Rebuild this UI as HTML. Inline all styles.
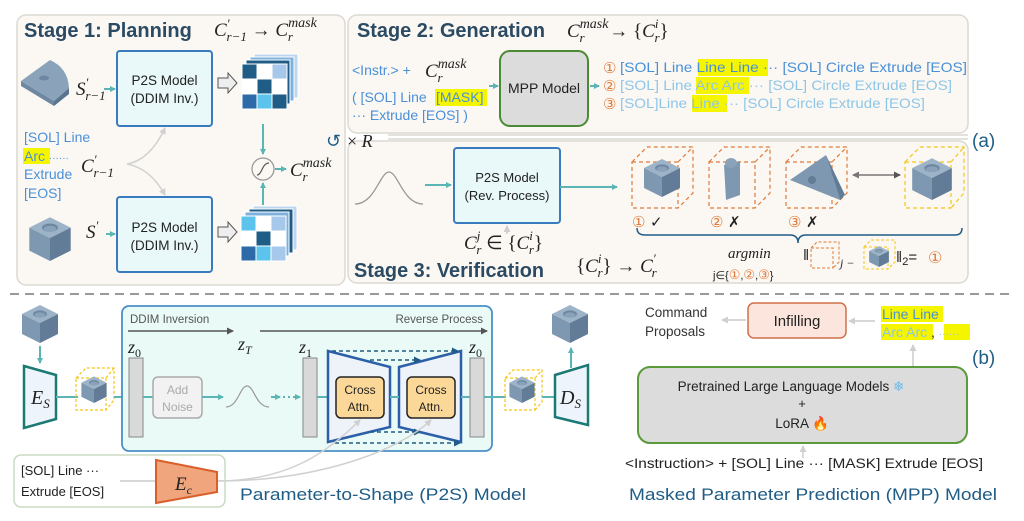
<!DOCTYPE html>
<html><head><meta charset="utf-8"><style>
html,body{margin:0;padding:0;background:#fff;width:1024px;height:521px;overflow:hidden}
svg{display:block}
.t{font-family:"Liberation Sans",sans-serif}
.m{font-family:"Liberation Serif",serif;font-style:italic}
</style></head><body>
<svg width="1024" height="521" viewBox="0 0 1024 521" xmlns="http://www.w3.org/2000/svg">
<defs>
<marker id="at" markerWidth="6" markerHeight="6" refX="5" refY="3" orient="auto" markerUnits="userSpaceOnUse"><path d="M0,0 L6,3 L0,6 Z" fill="#5bb5b5"/></marker>
<marker id="ag" markerWidth="7" markerHeight="7" refX="6" refY="3.5" orient="auto" markerUnits="userSpaceOnUse"><path d="M0,0 L7,3.5 L0,7 Z" fill="#cfcfcf"/></marker>
<marker id="ad" markerWidth="7" markerHeight="7" refX="6" refY="3.5" orient="auto" markerUnits="userSpaceOnUse"><path d="M0,0 L7,3.5 L0,7 Z" fill="#555"/></marker>
<marker id="ab" markerWidth="7" markerHeight="7" refX="6" refY="3.5" orient="auto" markerUnits="userSpaceOnUse"><path d="M0,0 L7,3.5 L0,7 Z" fill="#1f5c86"/></marker>
<marker id="as" markerWidth="7" markerHeight="7" refX="1" refY="3.5" orient="auto" markerUnits="userSpaceOnUse"><path d="M7,0 L0,3.5 L7,7 Z" fill="#777"/></marker>
<g id="cube">
<polygon points="20,2 38,11 20,20 2,11" fill="#9db3c8"/>
<polygon points="2,11 20,20 20,40 2,31" fill="#7f98b1"/>
<polygon points="20,20 38,11 38,31 20,40" fill="#627c97"/>
<ellipse cx="20" cy="11" rx="7" ry="3.6" fill="#6f88a2"/>
<ellipse cx="20" cy="12" rx="5.5" ry="2.6" fill="#8aa2b9"/>
</g>
<g id="grid">
<rect x="12" y="0" width="44" height="44" fill="#bcd6ee" stroke="#fff" stroke-width="1"/>
<rect x="8" y="3" width="44" height="44" fill="#7fb0dc" stroke="#fff"/>
<rect x="4" y="6" width="44" height="44" fill="#1f5c86" stroke="#fff"/>
<g stroke="#fff" stroke-width="1">
<rect x="0" y="10" width="15" height="15" fill="#1f5c86"/><rect x="15" y="10" width="15" height="15" fill="#fff"/><rect x="30" y="10" width="15" height="15" fill="#a6c8ea"/>
<rect x="0" y="25" width="15" height="15" fill="#fff"/><rect x="15" y="25" width="15" height="15" fill="#1f5c86"/><rect x="30" y="25" width="15" height="15" fill="#fff"/>
<rect x="0" y="40" width="15" height="15" fill="#2d6aa8"/><rect x="15" y="40" width="15" height="15" fill="#5bc3ec"/><rect x="30" y="40" width="15" height="15" fill="#1f5c86"/>
</g>
</g>
<g id="grid2">
<rect x="12" y="0" width="44" height="44" fill="#bcd6ee" stroke="#fff"/>
<rect x="8" y="3" width="44" height="44" fill="#1f5c86" stroke="#fff"/>
<rect x="4" y="6" width="44" height="44" fill="#7fb0dc" stroke="#fff"/>
<g stroke="#fff" stroke-width="1">
<rect x="0" y="10" width="15" height="15" fill="#5bc3ec"/><rect x="15" y="10" width="15" height="15" fill="#fff"/><rect x="30" y="10" width="15" height="15" fill="#a6c8ea"/>
<rect x="0" y="25" width="15" height="15" fill="#fff"/><rect x="15" y="25" width="15" height="15" fill="#1f5c86"/><rect x="30" y="25" width="15" height="15" fill="#fff"/>
<rect x="0" y="40" width="15" height="15" fill="#2d6aa8"/><rect x="15" y="40" width="15" height="15" fill="#5bc3ec"/><rect x="30" y="40" width="15" height="15" fill="#a6c8ea"/>
</g>
</g>
</defs>

<!-- panels -->
<rect x="17" y="15" width="328" height="270" rx="9" fill="#fbf8f3" stroke="#dcd8d2" stroke-width="1.5"/>
<rect x="348" y="15" width="620" height="118" rx="9" fill="#fbf8f3" stroke="#dcd8d2" stroke-width="1.5"/>
<rect x="348" y="141" width="620" height="142" rx="9" fill="#fbf8f3" stroke="#dcd8d2" stroke-width="1.5"/>
<line x1="388" y1="135" x2="968" y2="135" stroke="#dcd8d2" stroke-width="1.5"/>
<line x1="388" y1="139" x2="968" y2="139" stroke="#dcd8d2" stroke-width="1.5"/>

<!-- Stage 1 -->
<text x="24" y="37" class="t" font-size="20" font-weight="bold" fill="#2b4a63">Stage 1: Planning</text>
<text x="214" y="36" class="m" font-size="19" fill="#222">C<tspan font-size="13" dy="-8">′</tspan><tspan font-size="13" dx="-3" dy="13">r−1</tspan><tspan font-style="normal" dy="-5"> → </tspan>C<tspan font-size="14" dy="-9">mask</tspan><tspan font-size="13" dx="-29" dy="14">r</tspan></text>

<rect x="117" y="51" width="95" height="75" rx="3" fill="#e9f8f8" stroke="#3a7abf" stroke-width="2"/>
<text x="164.5" y="85" class="t" font-size="13.5" fill="#222" text-anchor="middle">P2S Model</text>
<text x="164.5" y="103" class="t" font-size="13.5" fill="#222" text-anchor="middle">(DDIM Inv.)</text>
<rect x="117" y="197" width="95" height="75" rx="3" fill="#e9f8f8" stroke="#3a7abf" stroke-width="2"/>
<text x="164.5" y="232" class="t" font-size="13.5" fill="#222" text-anchor="middle">P2S Model</text>
<text x="164.5" y="250" class="t" font-size="13.5" fill="#222" text-anchor="middle">(DDIM Inv.)</text>

<path d="M21,81 L50,60 Q68,68 69,88 L54,101 Z" fill="#8ba3ba"/>
<path d="M21,81 L54,101 L54,106 L21,86 Z" fill="#6f88a2"/>
<path d="M54,101 L69,88 L69,94 L54,106 Z" fill="#5a7490"/>
<ellipse cx="44" cy="78" rx="5" ry="2.5" fill="#6f88a2"/>
<use href="#cube" x="27" y="215" transform="translate(27,215) scale(1.15) translate(-27,-215)"/>

<text x="76" y="95" class="m" font-size="19" fill="#222">S<tspan font-size="13" dy="-8">′</tspan><tspan font-size="13" dx="-3" dy="13">r−1</tspan></text>
<line x1="104" y1="89" x2="115" y2="89" stroke="#5bb5b5" stroke-width="2" marker-end="url(#at)"/>
<text x="86" y="238" class="m" font-size="19" fill="#222">S<tspan font-size="13" dy="-8">′</tspan></text>
<line x1="106" y1="234" x2="115" y2="234" stroke="#5bb5b5" stroke-width="2" marker-end="url(#at)"/>

<path d="M218,78 L228,78 L228,73 L237,83 L228,93 L228,88 L218,88 Z" fill="#eee" stroke="#555" stroke-width="1"/>
<path d="M218,227 L228,227 L228,222 L237,232 L228,242 L228,237 L218,237 Z" fill="#eee" stroke="#555" stroke-width="1"/>
<use href="#grid" x="242" y="54"/>
<use href="#grid2" x="241" y="206"/>

<text x="24" y="142" class="t" font-size="14" fill="#4a90d9">[SOL] Line</text>
<rect x="23" y="148" width="27" height="16" fill="#f5f500"/>
<text x="24" y="161" class="t" font-size="14" fill="#4a90d9">Arc <tspan font-size="10">······</tspan></text>
<text x="24" y="179" class="t" font-size="14" fill="#4a90d9">Extrude</text>
<text x="24" y="198" class="t" font-size="14" fill="#4a90d9">[EOS]</text>
<text x="81" y="172" class="m" font-size="19" fill="#222">C<tspan font-size="13" dy="-8">′</tspan><tspan font-size="13" dx="-3" dy="13">r−1</tspan></text>
<path d="M127,164 Q150,160 165,128" fill="none" stroke="#d2d2d2" stroke-width="1.5" marker-end="url(#ag)"/>
<path d="M127,164 Q150,168 165,195" fill="none" stroke="#d2d2d2" stroke-width="1.5" marker-end="url(#ag)"/>

<line x1="263" y1="124" x2="263" y2="154" stroke="#5bb5b5" stroke-width="2" marker-end="url(#at)"/>
<line x1="263" y1="205" x2="263" y2="183" stroke="#5bb5b5" stroke-width="2" marker-end="url(#at)"/>
<circle cx="263" cy="169" r="11" fill="#fbf8f3" stroke="#999" stroke-width="1.3"/>
<path d="M257,175 C262,175 262,163 269,163" fill="none" stroke="#555" stroke-width="1.2"/>
<line x1="275" y1="169" x2="286" y2="169" stroke="#5bb5b5" stroke-width="2" marker-end="url(#at)"/>
<text x="290" y="176" class="m" font-size="19" fill="#222">C<tspan font-size="14" dy="-9">mask</tspan><tspan font-size="13" dx="-29" dy="14">r</tspan></text>

<text x="326" y="147" class="t" font-size="18" fill="#1f5c86">↺</text>
<text x="347" y="147" class="m" font-size="18" fill="#222"><tspan font-style="normal">×</tspan> R</text>

<!-- Stage 2 -->
<text x="357" y="37" class="t" font-size="20" font-weight="bold" fill="#2b4a63" textLength="188" lengthAdjust="spacingAndGlyphs">Stage 2: Generation</text>
<text x="567" y="37" class="m" font-size="19" fill="#222">C<tspan font-size="14" dy="-9">mask</tspan><tspan font-size="13" dx="-29" dy="14">r</tspan><tspan font-style="normal" dx="20" dy="-5"> → {</tspan>C<tspan font-size="13" dy="-9">i</tspan><tspan font-size="13" dx="-4" dy="14">r</tspan><tspan font-style="normal" dy="-5">}</tspan></text>

<text x="352" y="75" class="t" font-size="14" fill="#4a90d9">&lt;Instr.&gt; +</text>
<text x="425" y="77" class="m" font-size="19" fill="#222">C<tspan font-size="14" dy="-9">mask</tspan><tspan font-size="13" dx="-29" dy="14">r</tspan></text>
<rect x="435" y="89" width="52" height="17" fill="#f5f500"/>
<text x="352" y="102" class="t" font-size="14" fill="#4a90d9">( [SOL] Line <tspan x="436">[MASK]</tspan></text>
<text x="352" y="120" class="t" font-size="14" fill="#4a90d9">··· Extrude [EOS] )</text>
<line x1="489" y1="86" x2="498" y2="86" stroke="#5bb5b5" stroke-width="2" marker-end="url(#at)"/>
<rect x="500" y="51" width="88" height="75" rx="10" fill="#dcdcdc" stroke="#4d8a35" stroke-width="2"/>
<text x="544" y="93" class="t" font-size="14" fill="#222" text-anchor="middle">MPP Model</text>
<line x1="590" y1="86" x2="599" y2="86" stroke="#5bb5b5" stroke-width="2" marker-end="url(#at)"/>

<rect x="698" y="59" width="70" height="17" fill="#f5f500"/>
<rect x="696" y="77" width="53" height="17" fill="#f5f500"/>
<rect x="692" y="95" width="35" height="17" fill="#f5f500"/>
<text x="603" y="73" class="t" font-size="15" fill="#e07b3a">①</text>
<text x="620" y="72" class="t" font-size="14" fill="#4a90d9" textLength="347" lengthAdjust="spacingAndGlyphs">[SOL] Line Line Line  ··· [SOL] Circle Extrude [EOS]</text>
<text x="603" y="91" class="t" font-size="15" fill="#e07b3a">②</text>
<text x="620" y="90" class="t" font-size="14" fill="#8fc6e8" textLength="332" lengthAdjust="spacingAndGlyphs">[SOL] Line Arc Arc ··· [SOL] Circle Extrude [EOS]</text>
<text x="603" y="109" class="t" font-size="15" fill="#e07b3a">③</text>
<text x="620" y="108" class="t" font-size="14" fill="#8fc6e8" textLength="305" lengthAdjust="spacingAndGlyphs">[SOL]Line Line ··· [SOL] Circle Extrude [EOS]</text>

<text x="972" y="147" class="t" font-size="19" fill="#1f5c86">(a)</text>

<!-- Stage 3 -->
<path d="M355,204 C375,204 380,172 389,172 C398,172 403,204 423,204" fill="none" stroke="#999" stroke-width="1.3"/>
<line x1="425" y1="185" x2="451" y2="185" stroke="#5bb5b5" stroke-width="2" marker-end="url(#at)"/>
<rect x="454" y="148" width="106" height="75" rx="3" fill="#e9f8f8" stroke="#3a7abf" stroke-width="2"/>
<text x="507" y="182" class="t" font-size="13" fill="#222" text-anchor="middle">P2S Model</text>
<text x="507" y="200" class="t" font-size="13" fill="#222" text-anchor="middle">(Rev. Process)</text>
<line x1="507" y1="234" x2="507" y2="226" stroke="#ccc" stroke-width="1.5" marker-end="url(#ag)"/>
<line x1="560" y1="187" x2="617" y2="187" stroke="#5bb5b5" stroke-width="2" marker-end="url(#at)"/>

<g fill="none" stroke="#e07b3a" stroke-width="1.2" stroke-dasharray="4,3">
<rect x="632" y="162" width="46" height="46"/><path d="M632,162 L647,147 L693,147 L693,193 L678,208 M678,162 L693,147"/>
<rect x="709" y="162" width="46" height="46"/><path d="M709,162 L724,147 L770,147 L770,193 L755,208 M755,162 L770,147"/>
<rect x="786" y="162" width="46" height="46"/><path d="M786,162 L801,147 L847,147 L847,193 L832,208 M832,162 L847,147"/>
</g>
<use href="#cube" x="642" y="157"/>
<path d="M724,165 L740,161 L740,195 L726,200 Z" fill="#7f98b1"/><ellipse cx="731" cy="163" rx="6" ry="5" fill="#8ba3ba"/>
<path d="M790,180 L826,155 L840,200 Z" fill="#7f98b1"/><path d="M826,155 L840,200 L845,195 Z" fill="#627c97"/><circle cx="812" cy="180" r="4" fill="#627c97"/>
<line x1="853" y1="175" x2="900" y2="175" stroke="#777" stroke-width="1.5" marker-start="url(#as)" marker-end="url(#ad)"/>
<g fill="none" stroke="#f5c518" stroke-width="1.2" stroke-dasharray="4,3">
<rect x="905" y="162" width="46" height="46"/><path d="M905,162 L920,147 L964,147 L964,193 L951,208 M951,162 L964,147"/>
</g>
<use href="#cube" x="910" y="156" transform="translate(910,156) scale(1.1) translate(-910,-156)"/>

<text x="632" y="227" class="t" font-size="15" fill="#e07b3a">①</text><text x="650" y="227" class="t" font-size="15" fill="#222">✓</text>
<text x="710" y="227" class="t" font-size="15" fill="#e07b3a">②</text><text x="728" y="227" class="t" font-size="15" fill="#222">✗</text>
<text x="788" y="227" class="t" font-size="15" fill="#e07b3a">③</text><text x="806" y="227" class="t" font-size="15" fill="#222">✗</text>
<path d="M637,228 Q637,235 645,235 L790,235 Q798,235 798,243 Q798,235 806,235 L955,235 Q962,235 962,228" fill="none" stroke="#1f5c86" stroke-width="1.5"/>

<text x="464" y="249" class="m" font-size="19" fill="#222">C<tspan font-size="13" dy="-9">j</tspan><tspan font-size="13" dx="-4" dy="14">r</tspan><tspan font-style="normal" dy="-5"> ∈ {</tspan>C<tspan font-size="13" dy="-9">i</tspan><tspan font-size="13" dx="-4" dy="14">r</tspan><tspan font-style="normal" dy="-5">}</tspan></text>
<text x="354" y="277" class="t" font-size="20" font-weight="bold" fill="#2b4a63" textLength="190" lengthAdjust="spacingAndGlyphs">Stage 3: Verification</text>
<text x="576" y="272" class="m" font-size="19" fill="#222"><tspan font-style="normal">{</tspan>C<tspan font-size="13" dy="-9">i</tspan><tspan font-size="13" dx="-4" dy="14">r</tspan><tspan font-style="normal" dy="-5">} → </tspan>C<tspan font-size="13" dy="-9">′</tspan><tspan font-size="13" dx="-4" dy="14">r</tspan></text>
<text x="728" y="258" class="m" font-size="15" fill="#222">argmin</text>
<text x="713" y="279" class="t" font-size="11" fill="#222">j∈{<tspan fill="#e07b3a" font-size="13">①</tspan>,<tspan fill="#e07b3a" font-size="13">②</tspan>,<tspan fill="#e07b3a" font-size="13">③</tspan>}</text>
<text x="803" y="260" class="t" font-size="15" fill="#222">‖</text>
<g fill="none" stroke="#e07b3a" stroke-width="1" stroke-dasharray="3,2"><rect x="811" y="248" width="22" height="20"/><path d="M811,248 L817,242 L839,242 L839,262 L833,268"/></g>
<text x="840" y="267" class="m" font-size="12" fill="#222">j −</text>
<g fill="none" stroke="#f5c518" stroke-width="1" stroke-dasharray="3,2"><rect x="864" y="247" width="24" height="22"/><path d="M864,247 L871,240 L895,240 L895,262 L888,269"/></g>
<use href="#cube" x="868" y="245" transform="translate(868,245) scale(0.55) translate(-868,-245)"/>
<text x="896" y="262" class="t" font-size="15" fill="#222">‖<tspan font-size="11" dy="3">2</tspan><tspan dy="-3">=</tspan></text>
<text x="928" y="263" class="t" font-size="16" fill="#e07b3a">①</text>

<line x1="10" y1="294" x2="1010" y2="294" stroke="#9a9a9a" stroke-width="2" stroke-dasharray="9,6"/>

<!-- P2S model bottom -->
<use href="#cube" x="20" y="303"/>
<line x1="40" y1="346" x2="40" y2="363" stroke="#5bb5b5" stroke-width="2" marker-end="url(#at)"/>
<polygon points="24,366 56,375 56,419 24,428" fill="#eef4fb" stroke="#1b7a74" stroke-width="2.5"/>
<text x="31" y="404" class="m" font-size="20" fill="#222">E<tspan font-size="13" dy="4">S</tspan></text>
<line x1="56" y1="397" x2="78" y2="397" stroke="#5bb5b5" stroke-width="2"/>
<rect x="76" y="378" width="30" height="32" fill="none" stroke="#f5c518" stroke-width="1.2" stroke-dasharray="3,2"/>
<path d="M76,378 L86,368 L114,368 L114,400 L106,410 M106,378 L114,368" fill="none" stroke="#f5c518" stroke-width="1.2" stroke-dasharray="3,2"/>
<use href="#cube" x="80" y="375" transform="translate(80,375) scale(0.7) translate(-80,-375)"/>
<line x1="114" y1="397" x2="129" y2="397" stroke="#5bb5b5" stroke-width="2"/>

<rect x="122" y="306" width="370" height="145" rx="7" fill="#eafaf7" stroke="#4a90c8" stroke-width="1.8"/>
<text x="130" y="323" class="t" font-size="11.5" fill="#555">DDIM Inversion</text>
<text x="483" y="323" class="t" font-size="11.5" fill="#555" text-anchor="end">Reverse Process</text>
<line x1="128" y1="331" x2="233" y2="331" stroke="#555" stroke-width="1.5" marker-end="url(#ad)"/>
<line x1="260" y1="331" x2="487" y2="331" stroke="#555" stroke-width="1.5" marker-end="url(#ad)"/>
<text x="128" y="353" class="m" font-size="18" fill="#222">z<tspan font-size="12" dy="4" font-style="normal">0</tspan></text>
<text x="238" y="350" class="m" font-size="18" fill="#222">z<tspan font-size="12" dy="4">T</tspan></text>
<text x="299" y="353" class="m" font-size="18" fill="#222">z<tspan font-size="12" dy="4" font-style="normal">1</tspan></text>
<text x="469" y="353" class="m" font-size="18" fill="#222">z<tspan font-size="12" dy="4" font-style="normal">0</tspan></text>
<rect x="129" y="358" width="14" height="79" fill="#d9d9d9" stroke="#888" stroke-width="1"/>
<rect x="303" y="358" width="14" height="79" fill="#d9d9d9" stroke="#888" stroke-width="1"/>
<rect x="470" y="358" width="14" height="79" fill="#d9d9d9" stroke="#888" stroke-width="1"/>
<line x1="143" y1="397" x2="153" y2="397" stroke="#5bb5b5" stroke-width="2"/>
<rect x="153" y="377" width="49" height="41" rx="5" fill="#f2f2f2" stroke="#aaa" stroke-width="1.5"/>
<text x="177.5" y="394" class="t" font-size="12" fill="#aaa" text-anchor="middle">Add</text>
<text x="177.5" y="411" class="t" font-size="12" fill="#aaa" text-anchor="middle">Noise</text>
<line x1="202" y1="397" x2="223" y2="397" stroke="#5bb5b5" stroke-width="2" marker-end="url(#at)"/>
<path d="M226,407 C238,407 240,386 247,386 C254,386 256,407 269,407" fill="none" stroke="#999" stroke-width="1.2"/>
<line x1="271" y1="397" x2="280" y2="397" stroke="#5bb5b5" stroke-width="2" marker-end="url(#at)"/>
<line x1="283" y1="397" x2="300" y2="397" stroke="#5bb5b5" stroke-width="2" stroke-dasharray="2,3" marker-end="url(#at)"/>
<line x1="317" y1="397" x2="328" y2="397" stroke="#5bb5b5" stroke-width="2"/>
<polygon points="328,351 390,367 390,427 328,442" fill="#eef3fa" stroke="#2c5fa8" stroke-width="2.5"/>
<polygon points="399,367 461,351 461,442 399,427" fill="#eef3fa" stroke="#2c5fa8" stroke-width="2.5"/>
<line x1="390" y1="397" x2="399" y2="397" stroke="#5bb5b5" stroke-width="2"/>
<line x1="461" y1="397" x2="470" y2="397" stroke="#5bb5b5" stroke-width="2"/>
<g stroke="#1f5c86" stroke-width="1.5" stroke-dasharray="4,3" fill="none">
<line x1="332" y1="351" x2="458" y2="351" marker-end="url(#ab)"/>
<line x1="370" y1="360" x2="420" y2="360" marker-end="url(#ab)"/>
<line x1="370" y1="432" x2="420" y2="432" marker-end="url(#ab)"/>
<line x1="335" y1="443" x2="460" y2="443" marker-end="url(#ab)"/>
</g>
<rect x="336" y="377" width="48" height="41" rx="5" fill="#fbd898" stroke="#222" stroke-width="1.5"/>
<text x="360" y="394" class="t" font-size="12" fill="#222" text-anchor="middle">Cross</text>
<text x="360" y="411" class="t" font-size="12" fill="#222" text-anchor="middle">Attn.</text>
<rect x="407" y="377" width="48" height="41" rx="5" fill="#fbd898" stroke="#222" stroke-width="1.5"/>
<text x="431" y="394" class="t" font-size="12" fill="#222" text-anchor="middle">Cross</text>
<text x="431" y="411" class="t" font-size="12" fill="#222" text-anchor="middle">Attn.</text>

<line x1="484" y1="397" x2="506" y2="397" stroke="#5bb5b5" stroke-width="2"/>
<rect x="505" y="378" width="30" height="32" fill="none" stroke="#f5c518" stroke-width="1.2" stroke-dasharray="3,2"/>
<path d="M505,378 L513,370 L542,370 L542,402 L535,410 M535,378 L542,370" fill="none" stroke="#f5c518" stroke-width="1.2" stroke-dasharray="3,2"/>
<use href="#cube" x="508" y="375" transform="translate(508,375) scale(0.7) translate(-508,-375)"/>
<line x1="542" y1="397" x2="555" y2="397" stroke="#5bb5b5" stroke-width="2"/>
<polygon points="555,375 588,365 588,425 555,417" fill="#eef4fb" stroke="#1b7a74" stroke-width="2.5"/>
<text x="560" y="404" class="m" font-size="20" fill="#222">D<tspan font-size="13" dy="4">S</tspan></text>
<line x1="571" y1="368" x2="571" y2="348" stroke="#5bb5b5" stroke-width="2" marker-end="url(#at)"/>
<use href="#cube" x="550" y="303"/>

<rect x="14" y="455" width="211" height="52" rx="7" fill="#fff" stroke="#c9dcc2" stroke-width="1.5"/>
<text x="21" y="475" class="t" font-size="13" fill="#222">[SOL] Line ···</text>
<text x="21" y="496" class="t" font-size="13" fill="#222">Extrude [EOS]</text>
<line x1="120" y1="481" x2="156" y2="481" stroke="#ccc" stroke-width="1.5"/>
<path d="M217,481 C290,481 330,450 360,420" fill="none" stroke="#d0d0d0" stroke-width="1.5" marker-end="url(#ag)"/>
<path d="M217,481 C320,481 400,450 431,420" fill="none" stroke="#d0d0d0" stroke-width="1.5" marker-end="url(#ag)"/>
<polygon points="156,460 217,472 217,492 156,503" fill="#f0a57c" stroke="#d9602a" stroke-width="2"/>
<text x="175" y="490" class="m" font-size="19" fill="#222">E<tspan font-size="12" dy="4">c</tspan></text>
<text x="240" y="500" class="t" font-size="17" fill="#1f5c86" textLength="286" lengthAdjust="spacingAndGlyphs">Parameter-to-Shape (P2S) Model</text>

<!-- MPP bottom -->
<text x="645" y="317" class="t" font-size="13.5" fill="#333">Command</text>
<text x="645" y="336" class="t" font-size="13.5" fill="#333">Proposals</text>
<line x1="746" y1="320" x2="722" y2="320" stroke="#ccc" stroke-width="1.5" marker-end="url(#ag)"/>
<rect x="748" y="303" width="98" height="35" rx="6" fill="#fbe5dc" stroke="#d0704a" stroke-width="1.5"/>
<text x="797" y="326" class="t" font-size="15" fill="#222" text-anchor="middle">Infilling</text>
<line x1="875" y1="321" x2="849" y2="321" stroke="#ccc" stroke-width="1.5" marker-end="url(#ag)"/>
<rect x="881" y="306" width="62" height="16" fill="#f5f500"/>
<rect x="881" y="324" width="52" height="16" fill="#f5f500"/>
<rect x="944" y="324" width="26" height="16" fill="#f5f500"/>
<text x="882" y="319" class="t" font-size="14" fill="#4a90d9">Line Line</text>
<text x="882" y="337" class="t" font-size="14" fill="#8fc6e8">Arc Arc <tspan fill="#222">,</tspan> <tspan fill="#8fc6e8" font-size="10">······</tspan></text>
<line x1="913" y1="366" x2="913" y2="345" stroke="#ccc" stroke-width="1.5" marker-end="url(#ag)"/>
<text x="972" y="364" class="t" font-size="19" fill="#1f5c86">(b)</text>
<rect x="638" y="367" width="329" height="76" rx="12" fill="#dcdcdc" stroke="#5a9a3a" stroke-width="2"/>
<text x="791" y="391" class="t" font-size="13.5" fill="#222" text-anchor="middle">Pretrained Large Language Models <tspan fill="#6cb8e8">❄</tspan></text>
<text x="802" y="408" class="t" font-size="13" fill="#222" text-anchor="middle">+</text>
<text x="802" y="428" class="t" font-size="13.5" fill="#222" text-anchor="middle">LoRA <tspan fill="#f06a20">🔥</tspan></text>
<line x1="803" y1="458" x2="803" y2="446" stroke="#ccc" stroke-width="1.5" marker-end="url(#ag)"/>
<text x="625" y="468" class="t" font-size="13.5" fill="#222" textLength="358" lengthAdjust="spacingAndGlyphs">&lt;Instruction&gt; + [SOL] Line ··· [MASK] Extrude [EOS]</text>
<text x="629" y="500" class="t" font-size="17" fill="#1f5c86" textLength="368" lengthAdjust="spacingAndGlyphs">Masked Parameter Prediction (MPP) Model</text>
</svg>
</body></html>
